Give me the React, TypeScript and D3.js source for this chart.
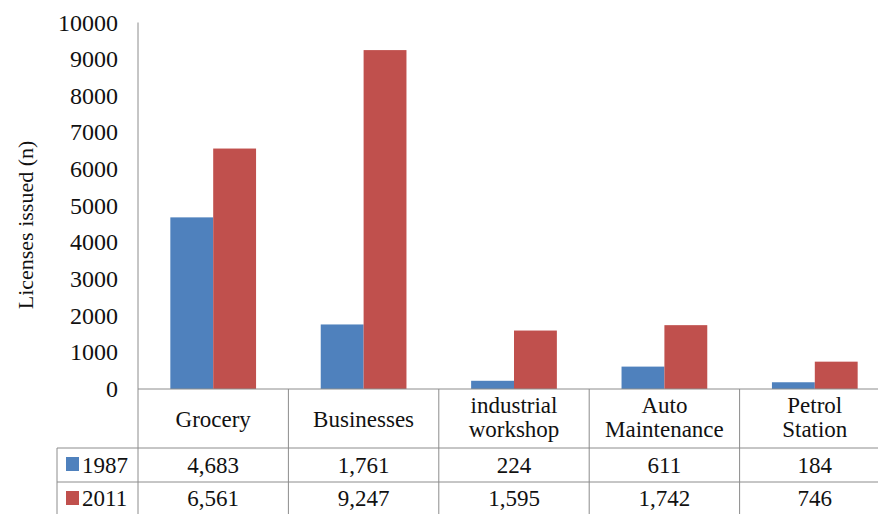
import React from "react";
import * as d3 from "d3";

const categories = ["Grocery", "Businesses", "industrial workshop", "Auto Maintenance", "Petrol Station"];
const categoryLines = [["Grocery"], ["Businesses"], ["industrial", "workshop"], ["Auto", "Maintenance"], ["Petrol", "Station"]];
const seriesNames = ["1987", "2011"];
const values1987 = [4683, 1761, 224, 611, 184];
const values2011 = [6561, 9247, 1595, 1742, 746];
const tickValues = [0, 1000, 2000, 3000, 4000, 5000, 6000, 7000, 8000, 9000, 10000];
const colors = ["#4F81BD", "#C0504D"];

const W = 878;
const H = 514;
const FONT = '"Liberation Serif", "Times New Roman", Tinos, serif';

export default function App() {
  const left = 138;
  const right = 890;
  const y0 = 389;
  const yTop = 22.5;
  const rowTop1 = 448;
  const rowTop2 = 482;
  const tableLeft = 57;

  const x = d3.scaleBand<string>().domain(categories).range([left, right]).padding(0);
  const y = d3.scaleLinear().domain([0, 10000]).range([y0, yTop]);
  const groupW = x.bandwidth() * 0.57;
  const xs = d3.scaleBand<string>().domain(seriesNames).range([0, groupW]).padding(0);
  const series = [values1987, values2011];
  const fmt = d3.format(",");
  const grid = "#8c8c8c";
  const tp = { fontFamily: FONT, fill: "#111" } as const;

  return (
    <div style={{ fontFamily: FONT, position: "absolute", left: 0, top: 0, width: W, height: H }}>
      <svg width={W} height={H} fontFamily={FONT} style={{ display: "block", background: "#fff", fontFamily: FONT }}>
        <style>{`svg text, svg tspan { font-family: "Liberation Serif", "Times New Roman", Tinos, serif !important; }`}</style>
        <rect x={0} y={0} width={W} height={H} fill="#fff" />
        {categories.map((c, i) => {
          const gx = (x(c) as number) + x.bandwidth() / 2 - groupW / 2;
          return seriesNames.map((s, j) => (
            <rect
              key={c + s}
              x={gx + (xs(s) as number)}
              y={y(series[j][i])}
              width={xs.bandwidth()}
              height={y0 - y(series[j][i])}
              fill={colors[j]}
            />
          ));
        })}
        <line x1={left} x2={left} y1={yTop} y2={H} stroke={grid} strokeWidth={1} />
        {tickValues.map((t) => (
          <text key={t} x={118} y={y(t) + 8} textAnchor="end" fontSize={24} fontFamily={FONT} style={tp}>
            {t}
          </text>
        ))}
        <text
          transform={`translate(33,${225}) rotate(-90)`}
          textAnchor="middle"
          fontSize={22}
          fontFamily={FONT}
          style={tp}
        >
          Licenses issued (n)
        </text>
        <line x1={left} x2={W} y1={y0} y2={y0} stroke={grid} />
        <line x1={tableLeft} x2={W} y1={rowTop1} y2={rowTop1} stroke={grid} />
        <line x1={tableLeft} x2={W} y1={rowTop2} y2={rowTop2} stroke={grid} />
        <line x1={tableLeft} x2={tableLeft} y1={rowTop1} y2={H} stroke={grid} />
        {categories.map((c, i) =>
          i > 0 ? <line key={"v" + c} x1={x(c)} x2={x(c)} y1={y0} y2={H} stroke={grid} /> : null
        )}
        {categories.map((c, i) => {
          const cx = (x(c) as number) + x.bandwidth() / 2;
          const lines = categoryLines[i];
          return lines.length === 1 ? (
            <text key={"l" + c} x={cx} y={427} textAnchor="middle" fontSize={23} fontFamily={FONT} style={tp}>
              {lines[0]}
            </text>
          ) : (
            <text key={"l" + c} textAnchor="middle" fontSize={23} fontFamily={FONT} style={tp}>
              <tspan x={cx} y={413}>{lines[0]}</tspan>
              <tspan x={cx} y={437}>{lines[1]}</tspan>
            </text>
          );
        })}
        {seriesNames.map((s, j) => {
          const base = j === 0 ? 473 : 506;
          const top = j === 0 ? rowTop1 : rowTop2;
          return (
            <g key={"row" + s}>
              <rect x={66} y={top + 9} width={13} height={14} fill={colors[j]} />
              <text x={82} y={base} fontSize={23} fontFamily={FONT} style={tp}>
                {s}
              </text>
              {categories.map((c, i) => (
                <text
                  key={c}
                  x={(x(c) as number) + x.bandwidth() / 2}
                  y={base}
                  textAnchor="middle"
                  fontSize={23}
                  fontFamily={FONT}
                  style={tp}
                >
                  {fmt(series[j][i])}
                </text>
              ))}
            </g>
          );
        })}
      </svg>
    </div>
  );
}
